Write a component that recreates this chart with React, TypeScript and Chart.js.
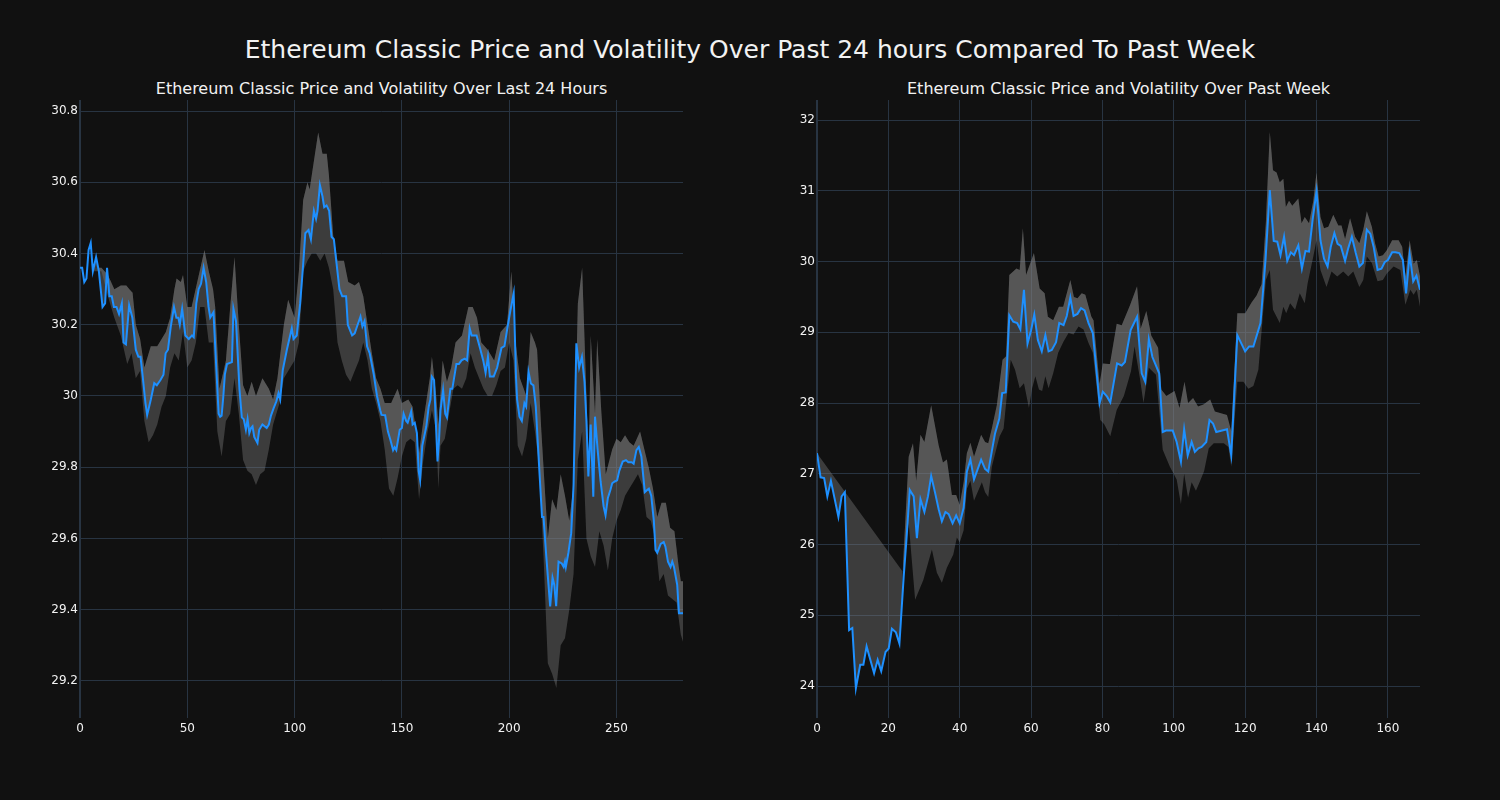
import React, { useEffect, useRef } from "react";
import { Chart, registerables } from "chart.js";
Chart.register(...registerables);

const BG = "#111111";
const GRID = "#283442";
const TEXT = "#f2f2f2";
const LINE = "#1E90FF";
const FILL = "rgba(128,128,128,0.39)";
const FONT = "'DejaVu Sans', 'Open Sans', sans-serif";

const mainTitle = "Ethereum Classic Price and Volatility Over Past 24 hours Compared To Past Week";
const dayTitle = "Ethereum Classic Price and Volatility Over Last 24 Hours";
const weekTitle = "Ethereum Classic Price and Volatility Over Past Week";

const dayXTicks = [0, 50, 100, 150, 200, 250];
const dayYTicks = [29.2, 29.4, 29.6, 29.8, 30, 30.2, 30.4, 30.6, 30.8];
const weekXTicks = [0, 20, 40, 60, 80, 100, 120, 140, 160];
const weekYTicks = [24, 25, 26, 27, 28, 29, 30, 31, 32];

const dayPrice: [number, number][] = [[0,30.36],[1,30.36],[2,30.32],[3,30.33],[4,30.41],[5,30.43],[6,30.35],[7.5,30.39],[8.8,30.35],[10.5,30.25],[11.7,30.26],[12.6,30.36],[13.7,30.28],[14.8,30.28],[15.8,30.25],[17,30.25],[18.2,30.23],[19.5,30.26],[20.3,30.15],[21.4,30.145],[22.9,30.255],[24.4,30.22],[26,30.13],[27.2,30.11],[28.2,30.11],[29.3,30.05],[30.5,29.98],[31.3,29.947],[33,29.99],[34.6,30.036],[35.8,30.03],[37.5,30.045],[38.9,30.06],[39.9,30.12],[41,30.13],[42.3,30.195],[43.8,30.25],[44.9,30.22],[45.8,30.22],[46.5,30.2],[47.6,30.245],[49.1,30.17],[50.7,30.16],[52.2,30.17],[53,30.165],[54.2,30.26],[55.3,30.3],[56.4,30.315],[57.6,30.36],[58.8,30.32],[59.9,30.25],[60.7,30.22],[62.2,30.235],[63.5,30.08],[64.6,29.95],[65.3,29.942],[66,29.945],[66.8,30.0],[67.5,30.06],[68.5,30.09],[70.8,30.095],[71.5,30.245],[72.7,30.21],[74.3,30.02],[75.4,29.94],[76.3,29.935],[77.3,29.905],[78.1,29.935],[78.9,29.896],[79.7,29.91],[80.4,29.915],[81.2,29.885],[82.7,29.868],[83.5,29.905],[85,29.92],[87,29.91],[88,29.92],[89,29.945],[90.2,29.965],[91.5,29.985],[92.5,30.008],[93.3,29.99],[94.5,30.073],[96.4,30.13],[98.7,30.19],[99.5,30.16],[101,30.17],[102.6,30.26],[104,30.37],[105,30.457],[106.5,30.466],[107.6,30.44],[109,30.52],[110,30.497],[110.7,30.52],[111.8,30.592],[113,30.56],[113.8,30.53],[114.9,30.535],[116.1,30.52],[117.2,30.447],[118.3,30.44],[119.4,30.38],[120.9,30.3],[122.2,30.28],[124,30.28],[124.8,30.2],[126.8,30.17],[128,30.176],[129.1,30.195],[130.7,30.223],[131.6,30.195],[132.6,30.21],[133.8,30.139],[135,30.12],[136.9,30.06],[138.4,30.0],[139.9,29.96],[140.5,29.947],[142.2,29.946],[143.5,29.9],[144.7,29.876],[145.9,29.848],[146.6,29.856],[147.4,29.848],[149,29.905],[150,29.91],[150.8,29.95],[152,29.93],[152.7,29.925],[154.3,29.956],[155,29.92],[156,29.925],[157,29.896],[157.8,29.79],[158.5,29.764],[159.5,29.86],[161.4,29.915],[162.5,29.97],[163.3,29.99],[164,30.054],[165,30.045],[165.8,29.93],[166.6,29.816],[167.3,29.876],[168,29.96],[169.2,30.017],[170.2,29.95],[171,29.94],[172.6,30.02],[173.5,30.02],[175.4,30.09],[176.6,30.09],[177.8,30.1],[179.3,30.105],[180.4,30.1],[181.6,30.19],[182.5,30.17],[184.8,30.17],[186.4,30.135],[187.9,30.1],[189,30.065],[190.1,30.11],[191,30.055],[192.8,30.055],[194.4,30.08],[196.4,30.135],[197.8,30.14],[199,30.185],[200.6,30.241],[202.1,30.288],[203.2,30.05],[203.7,29.99],[204.8,29.942],[205.9,29.93],[207.1,29.98],[207.9,29.97],[209,30.068],[210.1,30.035],[211.3,30.03],[212.4,29.97],[213.5,29.85],[215.3,29.66],[216,29.66],[217.3,29.549],[219.1,29.409],[220.2,29.49],[221,29.47],[221.9,29.41],[223,29.535],[224.5,29.53],[225.4,29.52],[226,29.535],[226.4,29.52],[227.6,29.56],[228.9,29.615],[230,29.75],[230.8,29.99],[231.3,30.148],[232.6,30.08],[233.9,30.11],[235.1,30.04],[236,29.93],[236.9,29.774],[238,29.92],[239.2,29.717],[240,29.942],[241.2,29.85],[242.6,29.76],[244,29.69],[244.9,29.665],[246,29.714],[247.2,29.737],[248,29.755],[249.2,29.76],[250.3,29.763],[251.3,29.79],[252.9,29.816],[254.4,29.82],[255.5,29.814],[257.1,29.814],[258,29.81],[259.3,29.848],[260.4,29.857],[261.6,29.83],[263.2,29.73],[264.3,29.736],[265.1,29.74],[266.2,29.72],[267.4,29.65],[268.2,29.568],[269,29.56],[270.6,29.585],[272,29.59],[272.8,29.577],[274,29.535],[275.2,29.52],[276,29.535],[276.8,29.52],[278.3,29.47],[279.1,29.39],[281,29.39]];

const dayUpper: [number, number][] = [[6,30.36],[10,30.36],[13,30.34],[16,30.3],[19,30.31],[21.6,30.31],[23,30.3],[24.5,30.29],[26,30.2],[28,30.16],[30,30.08],[33,30.14],[36,30.14],[40,30.18],[42,30.22],[44,30.3],[45,30.33],[47,30.32],[48,30.34],[50,30.25],[52,30.25],[55,30.33],[58,30.41],[60,30.35],[62,30.3],[63,30.25],[65,30.02],[68,30.1],[70,30.25],[72,30.39],[74,30.2],[76,30.03],[78,30.0],[80,30.04],[82,30.0],[85,30.05],[88,30.02],[90,29.99],[92,30.05],[95,30.2],[97,30.27],[100,30.22],[102,30.35],[104,30.55],[106,30.6],[107,30.58],[109,30.66],[111,30.74],[113,30.68],[115,30.68],[116,30.62],[118,30.45],[120,30.38],[123,30.38],[125,30.32],[128,30.31],[130,30.32],[132,30.28],[134,30.2],[136,30.12],[138,30.05],[140,30.02],[142,29.98],[145,29.98],[148,30.02],[150,29.98],[153,29.99],[155,29.97],[158,29.84],[160,29.93],[163,30.05],[164,30.11],[166,30.0],[167,29.92],[169,30.1],[171,30.04],[173,30.08],[175,30.15],[178,30.17],[181,30.25],[183,30.25],[185,30.22],[187,30.15],[190,30.13],[193,30.1],[196,30.18],[199,30.2],[201,30.35],[203,30.15],[205,30.05],[208,30.0],[210,30.18],[212,30.15],[213,30.13],[215,29.9],[217,29.7],[218,29.6],[220,29.71],[222,29.68],[224,29.78],[226,29.72],[228,29.65],[230,29.75],[232,30.26],[234,30.36],[236,30.0],[237,29.8],[238,30.17],[240,29.95],[241,30.16],[243,29.95],[245,29.78],[248,29.85],[250,29.88],[252,29.87],[254,29.89],[256,29.87],[258,29.86],[261,29.9],[263,29.85],[265,29.8],[267,29.74],[269,29.66],[271,29.7],[273,29.7],[275,29.63],[277,29.62],[279,29.52],[280,29.48],[281,29.48]];

const dayLower: [number, number][] = [[6,30.35],[10,30.35],[13,30.28],[16,30.22],[19,30.17],[22,30.09],[24,30.12],[26,30.05],[28,30.07],[30,29.93],[32,29.87],[34,29.89],[36,29.92],[38,29.97],[40,30.0],[42,30.08],[44,30.12],[46,30.1],[48,30.18],[50,30.08],[52,30.1],[54,30.15],[56,30.25],[58,30.25],[60,30.15],[62,30.15],[64,29.9],[66,29.83],[68,29.93],[70,29.95],[72,30.05],[74,29.95],[76,29.82],[78,29.79],[80,29.78],[82,29.75],[84,29.78],[86,29.79],[88,29.85],[90,29.92],[93,29.98],[95,30.05],[98,30.08],[100,30.1],[102,30.15],[104,30.35],[106,30.38],[108,30.4],[110,30.4],[112,30.38],[114,30.4],[116,30.36],[118,30.3],[120,30.15],[122,30.1],[124,30.06],[126,30.04],[128,30.07],[130,30.1],[132,30.15],[134,30.1],[136,30.02],[138,29.98],[140,29.93],[142,29.85],[144,29.74],[146,29.72],[148,29.77],[150,29.83],[152,29.87],[154,29.88],[156,29.87],[158,29.71],[160,29.82],[162,29.9],[164,29.96],[166,29.9],[167,29.74],[168,29.86],[170,29.88],[172,29.95],[174,30.02],[176,30.03],[178,30.02],[180,30.05],[182,30.12],[184,30.08],[186,30.05],[188,30.02],[190,30.0],[192,30.0],[194,30.03],[196,30.07],[198,30.08],[200,30.15],[202,30.1],[204,29.86],[206,29.83],[208,29.88],[210,29.98],[212,29.9],[214,29.8],[216,29.55],[218,29.25],[220,29.22],[222,29.18],[224,29.3],[226,29.32],[228,29.4],[230,29.5],[232,29.82],[234,29.9],[236,29.6],[238,29.55],[240,29.52],[242,29.62],[244,29.58],[246,29.51],[248,29.6],[250,29.65],[252,29.68],[254,29.72],[256,29.74],[258,29.76],[260,29.78],[262,29.75],[264,29.66],[266,29.65],[268,29.6],[270,29.48],[272,29.5],[274,29.44],[276,29.43],[278,29.42],[280,29.33],[281,29.31]];

const weekPrice: [number, number][] = [[0,27.29],[1,26.95],[2,26.94],[2.9,26.68],[3.9,26.9],[6,26.39],[6.9,26.68],[7.8,26.74],[9,24.79],[9.9,24.82],[10.9,23.97],[12.1,24.3],[13,24.3],[13.9,24.56],[16,24.18],[17,24.37],[18,24.21],[19.2,24.48],[20.1,24.53],[21,24.81],[22.1,24.76],[23.1,24.6],[24.3,25.55],[25,26.02],[26,26.77],[27.1,26.68],[28,26.09],[29,26.64],[30.1,26.46],[31.1,26.68],[32,26.97],[33.1,26.73],[34.1,26.5],[35,26.33],[36,26.46],[36.9,26.43],[38,26.3],[39,26.41],[40,26.3],[41.1,26.52],[42,27.03],[43,27.2],[44,26.92],[46,27.2],[47.1,27.07],[48,27.03],[49,27.32],[49.9,27.57],[51.1,27.78],[51.9,28.14],[52.9,28.15],[53.9,29.24],[55,29.15],[56.1,29.13],[57,29.04],[58,29.6],[59,28.84],[60,29.03],[60.9,29.25],[61.9,28.89],[63,28.73],[64,28.96],[64.9,28.73],[65.8,28.75],[67,28.86],[67.9,29.13],[69.1,29.1],[70,29.23],[71,29.49],[71.9,29.23],[73,29.26],[74,29.34],[75,29.31],[76.1,29.13],[77.3,28.99],[79.2,27.995],[80.1,28.16],[81.3,28.09],[82.2,28.01],[84.1,28.56],[85.4,28.53],[86.3,28.58],[87.9,29.03],[89.7,29.22],[91,28.42],[92,28.3],[93,28.9],[94,28.65],[95.9,28.42],[96.9,27.59],[97.8,27.61],[99.7,27.61],[100.8,27.45],[102,27.17],[102.9,27.63],[103.9,27.26],[105,27.45],[105.9,27.31],[106.9,27.36],[107.8,27.38],[109.1,27.45],[110,27.76],[111,27.71],[111.9,27.59],[114.9,27.63],[116.1,27.26],[117.8,28.96],[120,28.73],[121.1,28.8],[122.3,28.8],[123.7,29.03],[124.3,29.13],[125.7,30.02],[126.9,31.01],[128,30.29],[129,30.28],[129.9,30.09],[130.9,30.35],[131.8,30.01],[132.8,30.13],[133.7,30.09],[134.9,30.23],[135.9,29.9],[136.9,30.15],[137.9,30.14],[138.9,30.59],[140,30.99],[141.1,30.3],[142.1,30.04],[143.1,29.93],[144,30.21],[145,30.4],[145.9,30.25],[146.8,30.22],[148,30.01],[148.9,30.19],[149.9,30.35],[151,30.12],[152,29.93],[153,29.98],[154.1,30.45],[155.1,30.39],[156,30.21],[157.1,29.88],[158.2,29.9],[159.1,29.99],[160,30.02],[161.2,30.13],[162.1,30.13],[163.2,30.12],[164.2,30.02],[165.1,29.55],[166.1,30.1],[167.1,29.72],[168,29.8],[169,29.6]];

const weekUpper: [number, number][] = [[24,25.62],[25.7,27.24],[26.9,27.43],[27.8,26.9],[29,27.55],[30.1,27.45],[32,27.97],[34.1,27.4],[35.3,27.16],[36.4,27.2],[37.8,26.7],[39,26.7],[40,26.56],[41.1,26.88],[42,27.29],[43,27.44],[44,27.24],[46,27.55],[47.1,27.45],[48,27.43],[49,27.64],[50.4,27.97],[52,28.61],[53,28.66],[53.9,29.81],[55.9,29.9],[56.8,29.88],[57.7,30.47],[58.6,29.81],[60.8,30.12],[62.4,29.62],[63.8,29.55],[64.7,29.22],[66.2,29.17],[67.8,29.36],[69,29.36],[71,29.74],[72,29.5],[73,29.48],[74.2,29.55],[75.2,29.53],[76.9,29.22],[77.5,29.17],[79.2,28.27],[80.1,28.56],[81.8,28.55],[82.1,28.55],[84,29.12],[85.4,29.1],[87.7,29.38],[89.7,29.65],[90.7,29.05],[92.3,29.3],[93.7,28.95],[95.6,28.78],[96.5,28.19],[97.9,28.1],[100.2,28.17],[101.6,27.93],[103,28.3],[104,28.0],[105.4,28.07],[106.8,27.95],[108.3,27.98],[110.2,28.05],[111.5,27.88],[114.9,27.83],[116.1,27.6],[117.8,29.27],[120,29.27],[121.8,29.42],[123.2,29.52],[124.6,29.68],[125.8,30.55],[126.9,31.83],[127.8,31.29],[128.8,31.26],[129.7,31.12],[130.7,31.17],[131.4,30.77],[132.3,30.86],[133.2,30.79],[134.9,30.89],[135.8,30.54],[136.7,30.63],[137.9,30.54],[139.1,30.86],[140,31.26],[141.1,30.63],[142.1,30.47],[143.3,30.49],[144.7,30.66],[146.1,30.51],[147,30.51],[148,30.32],[149.4,30.61],[150.8,30.35],[152,30.26],[153.1,30.45],[154.1,30.71],[155.5,30.49],[156.4,30.26],[157.4,30.07],[158.6,30.09],[159.7,30.16],[161.2,30.3],[163,30.3],[164,30.21],[164.9,29.79],[166.1,30.3],[167.2,29.97],[168.1,30.02],[169,29.79]];

const weekLower: [number, number][] = [[24,25.62],[25.7,26.3],[27.5,25.22],[29.8,25.5],[32.2,25.93],[33.6,25.6],[35,25.46],[36.4,25.67],[38.2,25.86],[39.2,26.1],[40,26.03],[41.1,26.2],[42,26.79],[43,26.9],[44,26.62],[46.2,26.88],[47.1,26.74],[48,26.67],[49,27.1],[50.4,27.38],[51.2,27.53],[52.3,27.64],[53,28.0],[54.3,28.61],[55.5,28.47],[56.8,28.21],[58,28.28],[59.4,27.93],[60.3,28.21],[61.2,28.38],[62.2,28.19],[63.1,28.17],[64,28.38],[64.9,28.21],[66.2,28.42],[67.6,28.71],[69.1,28.87],[70.5,28.99],[71.9,28.97],[73.3,29.08],[74.7,29.04],[76.1,28.85],[77.3,28.71],[79.4,27.76],[80.5,27.7],[82.2,27.53],[84,27.9],[86,28.1],[88,28.45],[89,28.8],[90.5,28.35],[91.5,28.0],[93,28.5],[95,28.4],[96.9,27.34],[98.9,27.1],[100.8,26.92],[102,26.57],[102.9,27.0],[104,26.66],[105,26.88],[106.2,26.76],[107.4,26.9],[108.5,27.04],[109.8,27.36],[111.2,27.43],[114,27.43],[115.3,27.38],[116.1,27.1],[117.8,28.3],[119.5,28.3],[120.9,28.2],[122.3,28.24],[123.7,28.47],[125.1,29.32],[125.8,29.74],[126.9,29.88],[127.8,29.32],[129.7,29.13],[130.7,29.36],[131.5,29.27],[132.6,29.41],[134,29.32],[135.3,29.55],[136.7,29.41],[137.5,29.69],[139.1,30.07],[140,30.3],[141.1,29.88],[142.8,29.64],[144.2,29.86],[145.8,29.79],[147.5,29.86],[148.9,29.79],[150.3,29.86],[152,29.64],[153.1,29.74],[154.1,30.07],[155.5,29.98],[157.1,29.72],[158.6,29.74],[159.7,29.83],[161.6,29.93],[163.5,29.88],[164.9,29.39],[166.3,29.6],[167.2,29.53],[168.1,29.6],[169,29.36]];

const toPts = (a: [number, number][]) => a.map(([x, y]) => ({ x, y }));

type PanelProps = {
  left: number;
  price: [number, number][];
  upper: [number, number][];
  lower: [number, number][];
  withGap: boolean;
  xMax: number;
  xTicks: number[];
  yMin: number;
  yMax: number;
  yTicks: number[];
};

function Panel(p: PanelProps) {
  const ref = useRef<HTMLCanvasElement | null>(null);
  useEffect(() => {
    if (!ref.current) return;
    const bandStyle = {
      borderColor: "rgba(0,0,0,0)",
      borderWidth: 0,
      pointRadius: 0,
      backgroundColor: FILL,
      tension: 0,
    };
    const datasets: any[] = [
      { label: "price", data: toPts(p.price), borderColor: LINE, borderWidth: 2, pointRadius: 0, fill: false, tension: 0 },
      { label: "upper", data: toPts(p.upper), fill: 0, ...bandStyle },
      { label: "lower", data: toPts(p.lower), fill: 1, ...bandStyle },
    ];
    if (p.withGap) {
      datasets.push({
        label: "gap",
        data: [{ x: p.price[0][0], y: p.price[0][1] }, { x: p.upper[0][0], y: p.upper[0][1] }],
        fill: 0,
        ...bandStyle,
      });
    }
    const tickFont = { family: FONT, size: 12 };
    const chart = new Chart(ref.current, {
      type: "line",
      data: { datasets },
      options: {
        animation: false,
        responsive: false,
        devicePixelRatio: 1,
        layout: { padding: { left: 0, right: 17, top: 10, bottom: 0 } },
        plugins: { legend: { display: false }, tooltip: { enabled: false }, title: { display: false } },
        scales: {
          x: {
            type: "linear",
            min: 0,
            max: p.xMax,
            afterBuildTicks: (a: any) => { a.ticks = p.xTicks.map((v) => ({ value: v })); },
            afterFit: (s: any) => { s.height = 52; },
            grid: {
              color: GRID,
              lineWidth: (c: any) => (c.tick && c.tick.value === 0 ? 2 : 1),
              drawTicks: false,
            },
            border: { display: false },
            ticks: { color: TEXT, font: tickFont, padding: 4, maxRotation: 0, autoSkip: false, callback: (v: any) => String(v) },
          },
          y: {
            type: "linear",
            min: p.yMin,
            max: p.yMax,
            afterBuildTicks: (a: any) => { a.ticks = p.yTicks.map((v) => ({ value: v })); },
            afterFit: (s: any) => { s.width = 80; },
            grid: { color: GRID, lineWidth: 1, drawTicks: false },
            border: { display: false },
            ticks: { color: TEXT, font: tickFont, padding: 2, autoSkip: false, callback: (v: any) => String(Number(Number(v).toFixed(1))) },
          },
        },
      } as any,
    });
    return () => chart.destroy();
  }, []);
  return (
    <canvas
      ref={ref}
      width={700}
      height={680}
      style={{ position: "absolute", left: p.left, top: 90, width: 700, height: 680 }}
    />
  );
}

export default function App() {
  const titleStyle: React.CSSProperties = {
    position: "absolute",
    color: TEXT,
    fontFamily: FONT,
    textAlign: "center",
    whiteSpace: "nowrap",
  };
  return (
    <div style={{ position: "absolute", left: 0, top: 0, width: 1500, height: 800, background: BG, overflow: "hidden" }}>
      <div style={{ ...titleStyle, left: 0, top: 35, width: 1500, fontSize: 25, lineHeight: "30px" }}>{mainTitle}</div>
      <div style={{ ...titleStyle, left: 80, top: 79, width: 603, fontSize: 16, lineHeight: "20px" }}>{dayTitle}</div>
      <div style={{ ...titleStyle, left: 817, top: 79, width: 603, fontSize: 16, lineHeight: "20px" }}>{weekTitle}</div>
      <Panel left={0} price={dayPrice} upper={dayUpper} lower={dayLower} withGap={false} xMax={281} xTicks={dayXTicks} yMin={29.096} yMax={30.831} yTicks={dayYTicks} />
      <Panel left={737} price={weekPrice} upper={weekUpper} lower={weekLower} withGap={true} xMax={169} xTicks={weekXTicks} yMin={23.548} yMax={32.283} yTicks={weekYTicks} />
    </div>
  );
}
